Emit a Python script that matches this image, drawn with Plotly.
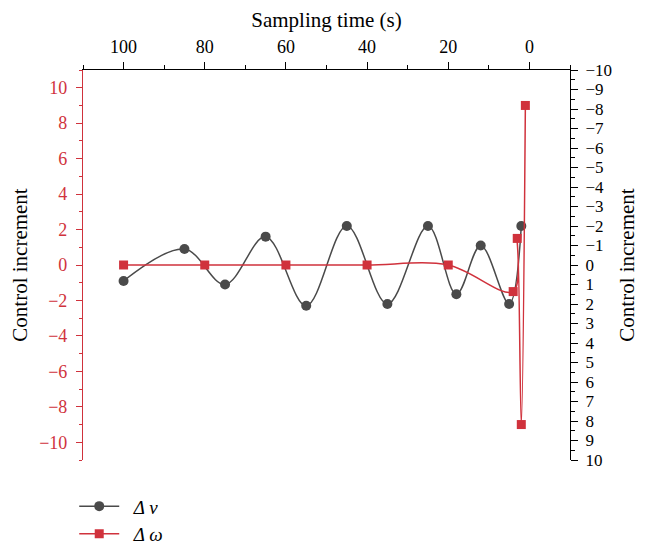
import plotly.graph_objects as go

# Data
t_v = [100, 85, 75, 65, 55, 45, 35, 25, 18, 12, 5, 2]
dv = [-0.9, 0.9, -1.1, 1.6, -2.3, 2.2, -2.2, 2.2, -1.65, 1.1, -2.2, 2.2]
t_w = [100, 80, 60, 40, 20, 4, 3, 2, 1]
dw = [0, 0, 0, 0, 0, -1.5, 1.5, -9, 9]
names = ["\u00a0\u00a0<i>Δ v</i>", "\u00a0\u00a0<i>Δ ω</i>"]

GRAY = "#4a4a4a"
RED = "#d0323c"
FONT = "Liberation Serif"

fig = go.Figure()
fig.add_trace(go.Scatter(
    x=t_v, y=dv, name=names[0], mode="lines+markers",
    line=dict(color=GRAY, width=1.5, shape="spline", smoothing=1),
    marker=dict(symbol="circle", size=10, color=GRAY),
))
fig.add_trace(go.Scatter(
    x=t_w, y=dw, name=names[1], mode="lines+markers",
    line=dict(color=RED, width=1.5, shape="spline", smoothing=1),
    marker=dict(symbol="square", size=9, color=RED),
))
fig.add_trace(go.Scatter(x=[None], y=[None], yaxis="y2", showlegend=False, hoverinfo="skip"))

fig.update_layout(
    width=641, height=540,
    margin=dict(l=75, r=79, t=62, b=88, autoexpand=False),
    paper_bgcolor="white", plot_bgcolor="white",
    font=dict(family=FONT, size=18, color="black"),
    showlegend=True,
    legend=dict(x=-0.018, y=-0.07, xanchor="left", yanchor="top",
                font=dict(family=FONT, size=19), tracegroupgap=0,
                itemwidth=40, bgcolor="rgba(0,0,0,0)"),
    xaxis=dict(
        side="top", range=[110, -10], tickmode="linear", tick0=0, dtick=20,
        showgrid=False, zeroline=False, showline=True, linecolor="black", linewidth=1.2,
        ticks="outside", ticklen=7, tickcolor="black", tickwidth=1.2,
        minor=dict(dtick=10, ticks="outside", ticklen=4, tickcolor="black"),
        tickfont=dict(family=FONT, size=18, color="black"), automargin=False,
        ticklabelstandoff=2,
        title=dict(text="Sampling time (s)", font=dict(family=FONT, size=21), standoff=10),
    ),
    yaxis=dict(
        range=[-11, 11], tickmode="linear", tick0=0, dtick=2,
        showgrid=False, zeroline=False, showline=True, linecolor=RED, linewidth=1.2,
        ticks="outside", ticklen=6, tickcolor=RED, tickwidth=1.2,
        minor=dict(dtick=1, ticks="outside", ticklen=3, tickcolor=RED),
        tickfont=dict(family=FONT, size=18, color=RED), automargin=False,
        ticklabelstandoff=5,
        title=dict(text="Control increment", font=dict(family=FONT, size=21, color="black"), standoff=7),
    ),
    yaxis2=dict(
        overlaying="y", side="right", range=[10, -10], tickmode="linear", tick0=0, dtick=1,
        showgrid=False, zeroline=False, showline=True, linecolor="black", linewidth=1.2,
        ticks="outside", ticklen=7, tickcolor="black", tickwidth=1.2,
        minor=dict(dtick=0.5, ticks="outside", ticklen=4, tickcolor="black"),
        tickfont=dict(family=FONT, size=17, color="black"), automargin=False,
        ticklabelstandoff=4,
        title=dict(text="Control increment", font=dict(family=FONT, size=21, color="black"), standoff=8),
    ),
)

fig.write_html("out.html")
